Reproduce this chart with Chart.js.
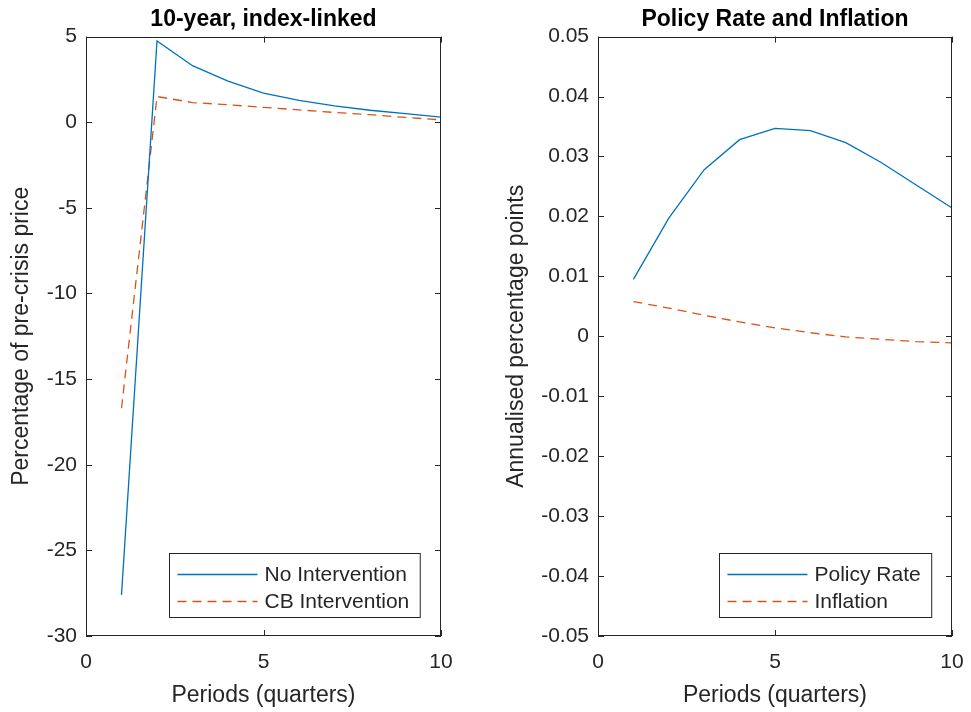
<!DOCTYPE html>
<html>
<head>
<meta charset="utf-8">
<script src="https://cdn.jsdelivr.net/npm/chart.js@4"></script>
<style>
  html, body { margin: 0; padding: 0; background: #fff; overflow: hidden; }
  .panel { position: absolute; top: 0; height: 712px; }
</style>
</head>
<body>
<div class="panel" style="left:0;width:480px"><canvas id="price-chart"></canvas></div>
<div class="panel" style="left:480px;width:491px"><canvas id="rate-chart"></canvas></div>
<script>
// quarters after the shock
const periods = [1, 2, 3, 4, 5, 6, 7, 8, 9, 10];

// 10-year index-linked bond price, % of pre-crisis price
const noIntervention = [-27.6, 4.75, 3.3, 2.4, 1.7, 1.27, 0.96, 0.7, 0.5, 0.3];
const cbIntervention = [-16.7, 1.5, 1.15, 1.02, 0.87, 0.72, 0.57, 0.44, 0.28, 0.14];

// annualised percentage points
const policyRate = [0.0095, 0.0197, 0.0278, 0.0328, 0.0347, 0.0343, 0.0323, 0.029, 0.0252, 0.0214];
const inflation = [0.0058, 0.0047, 0.0035, 0.0024, 0.0014, 0.0006, -0.0001, -0.0005, -0.0009, -0.0011];

const xTicks = [0, 5, 10];
const priceTicks = [-30, -25, -20, -15, -10, -5, 0, 5];
const rateTicks = [-0.05, -0.04, -0.03, -0.02, -0.01, 0, 0.01, 0.02, 0.03, 0.04, 0.05];

const axisColor = "#262626";
const blue = "#0072BD";
const orange = "#D95319";

Chart.defaults.font.family = "'Liberation Sans', Arial, sans-serif";
Chart.defaults.color = axisColor;

function points(ys) {
  return periods.map((p, i) => ({ x: p, y: ys[i] }));
}

// MATLAB style box with inward ticks plus an inset legend
const boxAxes = {
  id: "boxAxes",
  afterDatasetsDraw(chart) {
    const { ctx, chartArea: a } = chart;
    const x = chart.scales.x;
    const y = chart.scales.y;
    ctx.save();
    ctx.strokeStyle = axisColor;
    ctx.lineWidth = 1;
    ctx.setLineDash([]);
    ctx.strokeRect(Math.round(a.left) + 0.5, Math.round(a.top) + 0.5,
      Math.round(a.width) - 1, Math.round(a.height) - 1);
    ctx.beginPath();
    x.ticks.forEach((t) => {
      const px = Math.round(x.getPixelForValue(t.value)) + 0.5;
      ctx.moveTo(px, a.bottom); ctx.lineTo(px, a.bottom - 6);
      ctx.moveTo(px, a.top); ctx.lineTo(px, a.top + 6);
    });
    y.ticks.forEach((t) => {
      const py = Math.round(y.getPixelForValue(t.value)) + 0.5;
      ctx.moveTo(a.left, py); ctx.lineTo(a.left + 6, py);
      ctx.moveTo(a.right, py); ctx.lineTo(a.right - 6, py);
    });
    ctx.stroke();

    // legend
    const sets = chart.data.datasets;
    ctx.font = "21px 'Liberation Sans', Arial, sans-serif";
    const textW = Math.max(...sets.map((d) => ctx.measureText(d.label).width));
    const boxW = 8 + 80 + 7 + textW + 11;
    const boxH = 64;
    const bx = Math.round(a.right - 21 - boxW) + 0.5;
    const by = Math.round(a.bottom - 19 - boxH) + 0.5;
    ctx.fillStyle = "#fff";
    ctx.fillRect(bx, by, boxW, boxH);
    ctx.strokeStyle = axisColor;
    ctx.lineWidth = 1;
    ctx.strokeRect(bx, by, boxW, boxH);
    sets.forEach((d, i) => {
      const ry = by + 21 + i * 27;
      ctx.strokeStyle = d.borderColor;
      ctx.lineWidth = d.borderWidth;
      ctx.setLineDash(d.borderDash || []);
      ctx.beginPath();
      ctx.moveTo(bx + 8, ry);
      ctx.lineTo(bx + 88, ry);
      ctx.stroke();
      ctx.fillStyle = axisColor;
      ctx.textBaseline = "middle";
      ctx.textAlign = "left";
      ctx.fillText(d.label, bx + 95, ry + 1);
    });
    ctx.restore();
  },
};

function makeChart(id, opts) {
  return new Chart(document.getElementById(id), {
    type: "line",
    data: {
      datasets: [
        {
          label: opts.labels[0],
          data: points(opts.series[0]),
          borderColor: blue,
          borderWidth: 1.3,
          pointRadius: 0,
          tension: 0,
          fill: false,
        },
        {
          label: opts.labels[1],
          data: points(opts.series[1]),
          borderColor: orange,
          borderWidth: 1.3,
          borderDash: [9, 6],
          pointRadius: 0,
          tension: 0,
          fill: false,
        },
      ],
    },
    options: {
      responsive: true,
      maintainAspectRatio: false,
      animation: false,
      events: [],
      layout: {
        padding: { top: 0, left: 0, right: opts.padRight, bottom: 0 },
      },
      plugins: {
        legend: { display: false },
        tooltip: { enabled: false },
        title: {
          display: true,
          text: opts.title,
          fullSize: false,
          color: "#000",
          font: { size: 23, weight: "bold" },
          padding: { top: 6, bottom: 3 },
        },
      },
      scales: {
        x: {
          type: "linear",
          min: 0,
          max: 10,
          afterBuildTicks: (s) => { s.ticks = xTicks.map((v) => ({ value: v })); },
          afterFit: (s) => {
            s.height = 76;
            s.paddingLeft = 0;
            s.paddingRight = 0;
          },
          grid: { display: false, drawTicks: false },
          border: { display: false },
          ticks: { font: { size: 21 }, padding: 14, maxRotation: 0 },
          title: {
            display: true,
            text: "Periods (quarters)",
            font: { size: 23 },
            padding: { top: 0, bottom: 3 },
          },
        },
        y: {
          min: opts.yMin,
          max: opts.yMax,
          afterBuildTicks: (s) => { s.ticks = opts.yTicks.map((v) => ({ value: v })); },
          afterFit: (s) => { s.width = opts.yWidth; },
          grid: { display: false, drawTicks: false },
          border: { display: false },
          ticks: {
            font: { size: 21 },
            padding: 9,
            callback: (v) => String(parseFloat(Number(v).toFixed(2))),
          },
          title: {
            display: true,
            text: opts.yTitle,
            font: { size: 23 },
            padding: { top: opts.yTitlePad, bottom: 0 },
          },
        },
      },
    },
    plugins: [boxAxes],
  });
}

makeChart("price-chart", {
  title: "10-year, index-linked",
  labels: ["No Intervention", "CB Intervention"],
  series: [noIntervention, cbIntervention],
  yMin: -30,
  yMax: 5,
  yTicks: priceTicks,
  yTitle: "Percentage of pre-crisis price",
  yWidth: 86,
  yTitlePad: 8,
  padRight: 39,
});

makeChart("rate-chart", {
  title: "Policy Rate and Inflation",
  labels: ["Policy Rate", "Inflation"],
  series: [policyRate, inflation],
  yMin: -0.05,
  yMax: 0.05,
  yTicks: rateTicks,
  yTitle: "Annualised percentage points",
  yWidth: 118,
  yTitlePad: 23,
  padRight: 19,
});
</script>
</body>
</html>
